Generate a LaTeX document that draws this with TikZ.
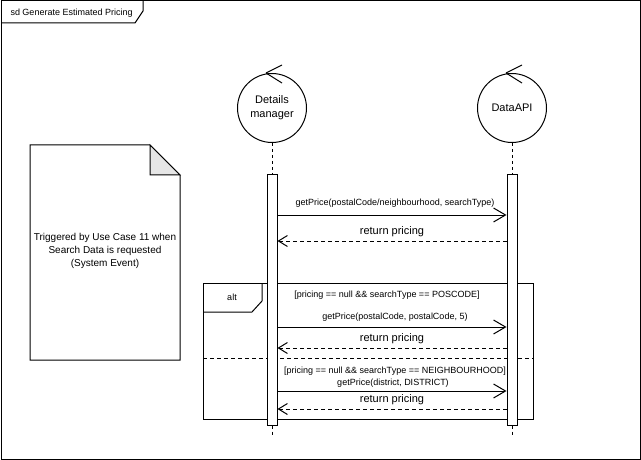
\documentclass[tikz,border=0pt]{standalone}
\usepackage{fontspec}
\setmainfont{Liberation Sans}
\usetikzlibrary{arrows.meta}
\definecolor{foldgray}{HTML}{E6E6E6}
\tikzset{
  every path/.style={line width=1pt},
  ctrl/.style={circle, draw, minimum size=69pt, inner sep=0pt, align=center,
               font=\fontsize{11}{14}\selectfont},
  actbar/.style={rectangle, draw, fill=white, minimum width=10pt, minimum height=250pt, inner sep=0pt},
  lifeline/.style={dash pattern=on 3pt off 3pt},
  call/.style={-{Straight Barb[length=12pt,width=14pt]}},
  reply/.style={dash pattern=on 4pt off 3pt, -{Straight Barb[length=9pt,width=11pt]}},
  small/.style={font=\fontsize{9}{11}\selectfont, inner sep=0pt},
  mid/.style={font=\fontsize{11}{13}\selectfont, inner sep=0pt},
}
\begin{document}
\begin{tikzpicture}[x=1pt,y=-1pt]
\useasboundingbox (0,0) rectangle (641,460);

% outer sequence diagram frame with its name tab
\draw (1,1) rectangle (640,459);
\draw (1,23) -- (135,23) -- (143,11) -- (143,1);
\node[small, anchor=west] (title) at (10,13) {sd Generate Estimated Pricing};

% trigger note with folded corner
\draw[fill=white] (30,145) -- (150,145) -- (180,175) -- (180,360) -- (30,360) -- cycle;
\draw[fill=foldgray] (150,145) -- (150,175) -- (180,175) -- cycle;
\node[align=center, font=\fontsize{10}{13.3}\selectfont, inner sep=0pt] (note) at (105,251)
  {Triggered by Use Case 11 when\\Search Data is requested\\(System Event)};

% control participants
\node[ctrl] (dm) at (272,108) {Details\\manager};
\node[ctrl] (api) at (512,108) {DataAPI};
\foreach \p in {dm,api}{
  \draw ([xshift=-6pt]\p.north) -- ++(16pt,-10pt);
  \draw ([xshift=-6pt]\p.north) -- ++(16pt,8pt);
}

% lifelines and activation bars
\node[actbar] (dmbar) at (272,300) {};
\node[actbar] (apibar) at (512,300) {};
\coordinate (dmend) at (272,436);
\coordinate (apiend) at (512,436);
\draw[lifeline] (dm.south) -- (dmbar.north);
\draw[lifeline] (api.south) -- (apibar.north);
\draw[lifeline] (dmbar.south) -- (dmend);
\draw[lifeline] (apibar.south) -- (apiend);

% first lookup
\draw[call] (dmbar.east |- 0,215) -- (apibar.west |- 0,215);
\node[small] (m1) at (395,203) {getPrice(postalCode/neighbourhood, searchType)};
\draw[reply] (apibar.west |- 0,241) -- (dmbar.east |- 0,241);
\node[mid] (r1) at (392,232) {return pricing};

% alt combined fragment
\draw (203,283) rectangle (533,419);
\draw (203,312) -- (252,312) -- (262,301) -- (262,283);
\node[small] (alt) at (232,297) {alt};
\draw[dash pattern=on 4pt off 3pt] (203,358) -- (533,358);
\node[small] (g1) at (387,295) {[pricing == null \&\& searchType == POSCODE]};
\node[small] (m2) at (395,317) {getPrice(postalCode, postalCode, 5)};
\draw[call] (dmbar.east |- 0,327) -- (apibar.west |- 0,327);
\node[mid] (r2) at (392,339) {return pricing};
\draw[reply] (apibar.west |- 0,348) -- (dmbar.east |- 0,348);
\node[small] (g2) at (395,371) {[pricing == null \&\& searchType == NEIGHBOURHOOD]};
\node[small] (m3) at (393,383) {getPrice(district, DISTRICT)};
\draw[call] (dmbar.east |- 0,391) -- (apibar.west |- 0,391);
\node[mid] (r3) at (392,400) {return pricing};
\draw[reply] (apibar.west |- 0,409) -- (dmbar.east |- 0,409);

% redraw bars over the fragment border
\node[actbar] at (272,300) {};
\node[actbar] at (512,300) {};
\end{tikzpicture}
\end{document}
